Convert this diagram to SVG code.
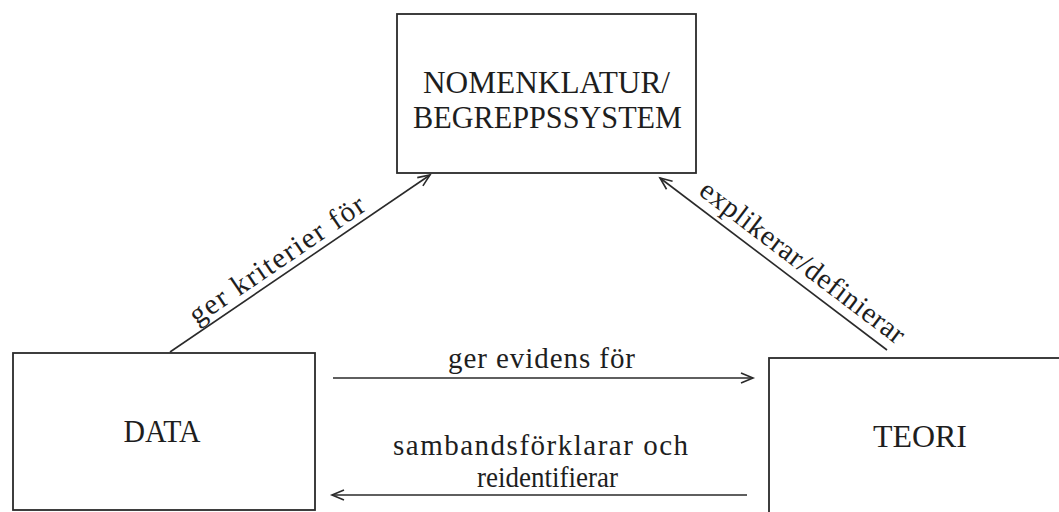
<svg xmlns="http://www.w3.org/2000/svg" width="1059" height="512" viewBox="0 0 1059 512">
<defs>
<marker id="arr" markerUnits="userSpaceOnUse" markerWidth="16" markerHeight="14" refX="13" refY="6" orient="auto">
<path d="M1,1 L13,6 L1,11" fill="none" stroke="#2a2a2a" stroke-width="1.6"/>
</marker>
<style>
.box{fill:#fff;stroke:#2a2a2a;stroke-width:1.8}
.t{font-family:"Liberation Serif","Times New Roman",serif;font-size:29px;fill:#1e1e1e;text-anchor:middle}
.c{font-size:32px}
.ln{stroke:#2a2a2a;stroke-width:1.6;fill:none;marker-end:url(#arr)}
</style>
</defs>
<rect width="1059" height="512" fill="#fff"/>
<g id="nomenklatur">
<rect class="box" x="397" y="14" width="299" height="159"/>
<text class="t c" x="546.5" y="93" textLength="247" lengthAdjust="spacingAndGlyphs">NOMENKLATUR/</text>
<text class="t c" x="547.5" y="128" textLength="269" lengthAdjust="spacingAndGlyphs">BEGREPPSSYSTEM</text>
</g>
<g id="data">
<rect class="box" x="13" y="353" width="302" height="157"/>
<text class="t c" x="162" y="442" textLength="77" lengthAdjust="spacingAndGlyphs">DATA</text>
</g>
<g id="teori">
<rect class="box" x="769" y="358" width="300" height="160"/>
<text class="t c" x="920" y="447" textLength="94" lengthAdjust="spacingAndGlyphs">TEORI</text>
</g>
<g id="connectors">
<line class="ln" x1="170" y1="352" x2="430" y2="175"/>
<line class="ln" x1="887" y1="350" x2="660" y2="178"/>
<line class="ln" x1="333" y1="378" x2="753" y2="378"/>
<line class="ln" x1="747" y1="495" x2="332" y2="495"/>
<text class="t" transform="translate(282,267.4) rotate(-34.2)" textLength="206" lengthAdjust="spacing">ger kriterier för</text>
<text class="t" transform="translate(797,269.4) rotate(37.2)" textLength="250" lengthAdjust="spacing">explikerar/definierar</text>
<text class="t" x="541.5" y="368" textLength="187" lengthAdjust="spacing">ger evidens för</text>
<text class="t" x="540.5" y="455" textLength="295" lengthAdjust="spacing">sambandsförklarar och</text>
<text class="t" x="547.5" y="487" textLength="141" lengthAdjust="spacingAndGlyphs">reidentifierar</text>
</g>
</svg>
